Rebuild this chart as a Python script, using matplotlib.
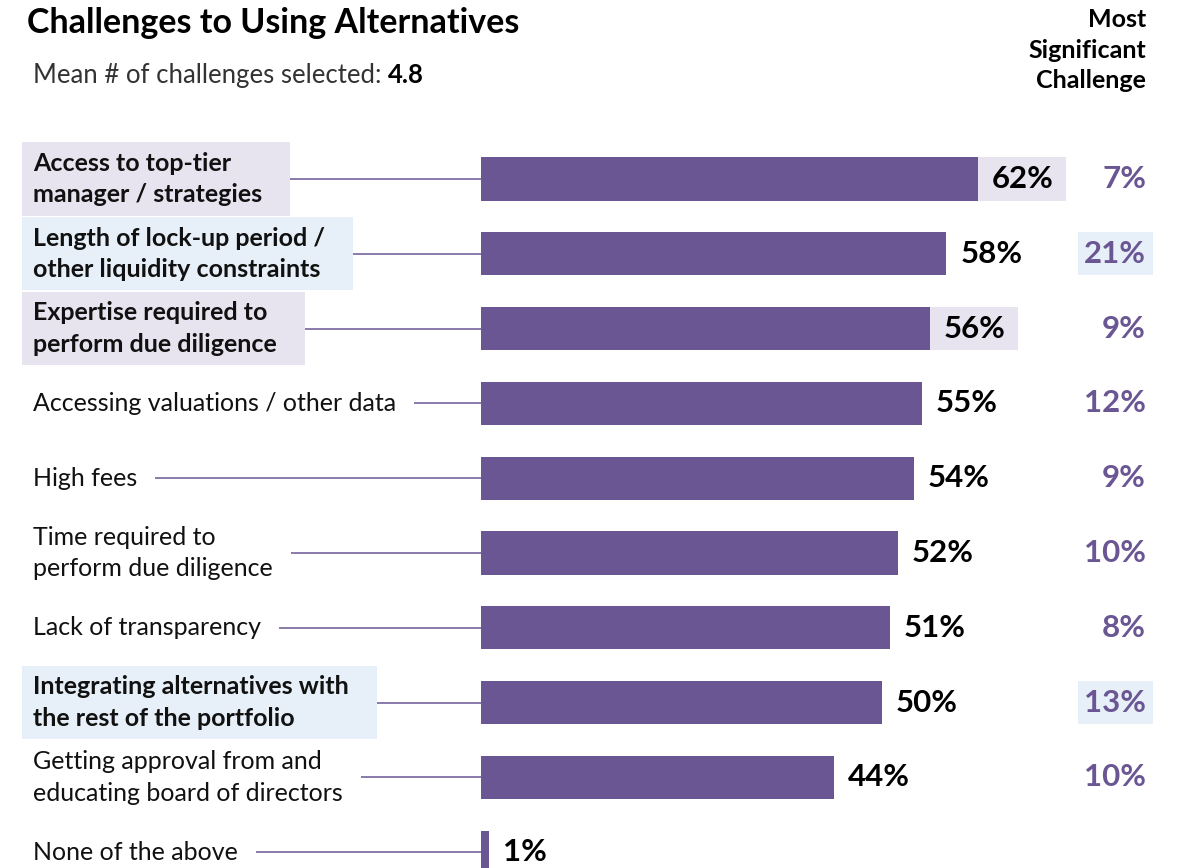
import matplotlib.pyplot as plt
import matplotlib.transforms as mtransforms
from matplotlib.patches import Rectangle

challenges = [
    "Access to top-tier\nmanager / strategies",
    "Length of lock-up period /\nother liquidity constraints",
    "Expertise required to\nperform due diligence",
    "Accessing valuations / other data",
    "High fees",
    "Time required to\nperform due diligence",
    "Lack of transparency",
    "Integrating alternatives with\nthe rest of the portfolio",
    "Getting approval from and\neducating board of directors",
    "None of the above",
]
selected = [62, 58, 56, 55, 54, 52, 51, 50, 44, 1]
most_significant = [7, 21, 9, 12, 9, 10, 8, 13, 10, None]

PURPLE = "#6b5694"
LAVENDER = "#e7e4ef"
LIGHTBLUE = "#e7f0f8"
FONT = "Lato"

W, H = 1185, 868
fig = plt.figure(figsize=(W / 100, H / 100), dpi=100)
plt.rcParams["font.family"] = [FONT, "DejaVu Sans"]

# axes: x=0 at pixel 481, ~8.02 px per percent; rows 74.8 px apart starting at 179
x0, pxper = 481, 8.02
ax = fig.add_axes([x0 / W, 0, (W - x0) / W, 1])
ax.set_xlim(0, (W - x0) / pxper)
row0, step = 179, 74.8
ax.set_ylim((H - row0) / step, -row0 / step)
ax.axis("off")

fx = lambda p: p / W
fy = lambda p: 1 - p / H
blend = mtransforms.blended_transform_factory(fig.transFigure, ax.transData)

# which rows get highlight boxes
blue_rows = sorted([i for i, m in enumerate(most_significant) if m is not None],
                   key=lambda i: -most_significant[i])[:2]
lav_rows = [i for i in sorted(range(len(selected)), key=lambda i: -selected[i])[:3]
            if i not in blue_rows]

ypos = list(range(len(selected)))
bar_h = 0.575
ax.barh(ypos, selected, height=bar_h, color=PURPLE, zorder=3)

renderer = fig.canvas.get_renderer()

def extent_px(t):
    bb = t.get_window_extent(renderer=renderer)
    return bb.x0, bb.x1

LAB_FS, VAL_FS = 18, 22.5
for i, lab in enumerate(challenges):
    bold = i in blue_rows or i in lav_rows
    t = ax.text(fx(33), i, lab, transform=blend, ha="left", va="center",
                fontsize=LAB_FS, fontweight="bold" if bold else "normal",
                color="#111111", linespacing=1.45, zorder=4, clip_on=False)
    l, r = extent_px(t)
    if bold:
        col = LIGHTBLUE if i in blue_rows else LAVENDER
        box_r = r + 28
        ax.add_patch(Rectangle((fx(22), i - 0.49), fx(box_r) - fx(22), 0.98,
                               transform=blend, color=col, lw=0, zorder=1,
                               clip_on=False))
        start = box_r
    else:
        start = r + 18
    ax.plot([fx(start), fx(x0)], [i, i], transform=blend, color=PURPLE,
            lw=1.1, zorder=2, solid_capstyle="butt", clip_on=False)

    # value label
    end_px = x0 + selected[i] * pxper
    vt = ax.text(fx(end_px + 14), i, f"{selected[i]}%", transform=blend,
                 ha="left", va="center", fontsize=VAL_FS, fontweight="bold",
                 color="#000000", zorder=4, clip_on=False)
    if i in lav_rows:
        _, vr = extent_px(vt)
        ax.add_patch(Rectangle((fx(end_px), i - bar_h / 2), fx(vr + 12) - fx(end_px),
                               bar_h, transform=blend, color=LAVENDER, lw=0, zorder=1,
                               clip_on=False))

    m = most_significant[i]
    if m is not None:
        mt = ax.text(fx(1146), i, f"{m}%", transform=blend, ha="right", va="center",
                     fontsize=VAL_FS, fontweight="bold", color=PURPLE, zorder=4,
                     clip_on=False)
        if i in blue_rows:
            ml, _ = extent_px(mt)
            ax.add_patch(Rectangle((fx(ml - 6), i - bar_h / 2), fx(1153) - fx(ml - 6),
                                   bar_h, transform=blend, color=LIGHTBLUE, lw=0,
                                   zorder=1, clip_on=False))

fig.text(fx(27), fy(23), "Challenges to Using Alternatives", ha="left", va="center",
         fontsize=24.5, fontweight="bold", color="#000000")
sub = fig.text(fx(33), fy(75), "Mean # of challenges selected: ", ha="left",
               va="center", fontsize=18.5, color="#333333")
sl, sr = extent_px(sub)
fig.text(fx(sr), fy(75), "4.8", ha="left", va="center", fontsize=18.5,
         fontweight="bold", color="#000000")
fig.text(fx(1146), fy(50), "Most\nSignificant\nChallenge", ha="right", va="center",
         multialignment="right", fontsize=18, fontweight="bold", color="#000000",
         linespacing=1.42)

fig.savefig("out.png", dpi=100)
